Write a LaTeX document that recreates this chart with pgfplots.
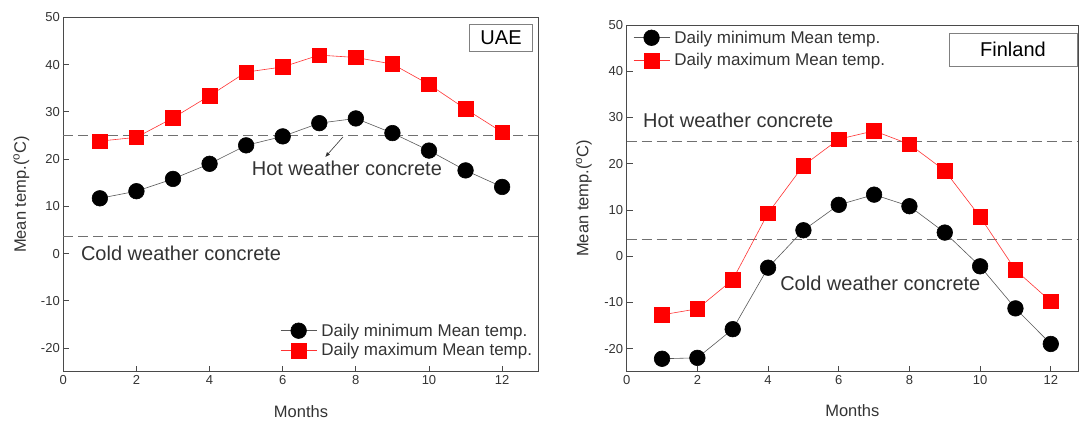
\documentclass[border=0pt]{standalone}
\usepackage{fontspec}
\setmainfont{Liberation Sans}
\usepackage{pgfplots}
\pgfplotsset{compat=1.18}
\usetikzlibrary{arrows.meta}

\definecolor{axgray}{HTML}{4A4A4A}
\definecolor{txtgray}{HTML}{333333}
\definecolor{dashgray}{HTML}{707070}

\tikzset{
  note/.style={font=\fontsize{20}{22}\selectfont, text=txtgray, anchor=west, inner sep=0pt},
}
\pgfplotsset{
  tempaxis/.style={
    scale only axis,
    xmin=0, ymin=-25, ymax=50,
    xtick={0,2,...,12}, ytick={-20,-10,...,50},
    tick pos=left, tick align=inside, major tick length=6pt,
    axis line style={axgray, line width=1pt},
    tick style={axgray, line width=0.8pt},
    ticklabel style={font=\fontsize{13}{15}\selectfont, text=txtgray},
    /pgf/number format/assume math mode=true,
    xlabel={Months}, ylabel={Mean temp.(\textsuperscript{o}C)},
    label style={font=\fontsize{16.5}{18}\selectfont, text=txtgray},
    legend cell align=left,
    legend image code/.code={\draw[mark repeat=2,mark phase=2,##1]
      plot coordinates {(0pt,0pt) (18pt,0pt) (36pt,0pt)};},
    legend style={draw=none, fill=none, inner sep=0pt, anchor=north west,
      font=\fontsize{17}{19}\selectfont, text=txtgray, row sep=3pt,
      nodes={inner sep=1.5pt},
      /tikz/every odd column/.append style={column sep=3pt}},
    clip=false,
  },
  tmin/.style={black!65, line width=0.6pt, mark=*, mark size=7.8pt,
    mark options={solid, fill=black, draw=black}},
  tmax/.style={red!80, line width=0.6pt, mark=square*, mark size=7.3pt,
    mark options={solid, fill=red, draw=red}},
  thr/.style={dashgray, dash pattern=on 10pt off 5pt, line width=1pt, forget plot},
}

\begin{document}
\begin{tikzpicture}
\useasboundingbox (0,0) rectangle (1079pt,421pt);

% UAE
\begin{axis}[tempaxis,
  at={(63.3pt,49.3pt)}, anchor=south west,
  width=475.4pt, height=354.4pt, xmax=13,
  xlabel style={at={(axis description cs:0.5,-0.113)}, anchor=center},
  ylabel style={at={(axis description cs:-0.088,0.5)}, anchor=center},
  legend style={at={(axis cs:5.93,-14.5)}},
]
\addplot[thr] coordinates {(0,24.9) (13,24.9)};
\addplot[thr] coordinates {(0,3.7) (13,3.7)};
\addplot[tmin] coordinates {
  (1,11.7)(2,13.2)(3,15.8)(4,19.0)(5,22.9)(6,24.8)
  (7,27.6)(8,28.6)(9,25.5)(10,21.8)(11,17.6)(12,14.1)
};
\addlegendentry{Daily minimum Mean temp.}
\addplot[tmax] coordinates {
  (1,23.8)(2,24.6)(3,28.7)(4,33.4)(5,38.4)(6,39.5)
  (7,42.0)(8,41.5)(9,40.1)(10,35.8)(11,30.6)(12,25.7)
};
\addlegendentry{Daily maximum Mean temp.}
\node[note] at (axis cs:5.15,18.0) {Hot weather concrete};
\node[note] at (axis cs:0.48,0.1) {Cold weather concrete};
\draw[txtgray, line width=0.6pt, -{Latex[length=5pt,width=4pt]}] (axis cs:7.65,24.7) -- (axis cs:7.16,20.4);
\node[draw=gray, line width=0.8pt, minimum width=63.7pt, minimum height=27.7pt,
  inner sep=0pt, font=\fontsize{20}{22}\selectfont, text=black]
  at (axis cs:11.97,45.65) {UAE};
\end{axis}

% Finland
\begin{axis}[tempaxis,
  at={(626.7pt,49.3pt)}, anchor=south west,
  width=451.3pt, height=346.7pt, xmax=12.77,
  xlabel style={at={(axis description cs:0.5,-0.111)}, anchor=center},
  ylabel style={at={(axis description cs:-0.095,0.5)}, anchor=center},
  legend style={at={(axis cs:0.18,49.1)}, row sep=6pt},
]
\addplot[thr] coordinates {(0,24.8) (12.77,24.8)};
\addplot[thr] coordinates {(0,3.7) (12.77,3.7)};
\addplot[tmin] coordinates {
  (1,-22.2)(2,-22.0)(3,-15.8)(4,-2.5)(5,5.6)(6,11.1)
  (7,13.3)(8,10.8)(9,5.1)(10,-2.2)(11,-11.3)(12,-19.0)
};
\addlegendentry{Daily minimum Mean temp.}
\addplot[tmax] coordinates {
  (1,-12.7)(2,-11.4)(3,-5.1)(4,9.3)(5,19.6)(6,25.3)
  (7,27.1)(8,24.2)(9,18.5)(10,8.5)(11,-3.0)(12,-9.8)
};
\addlegendentry{Daily maximum Mean temp.}
\node[note] at (axis cs:0.46,29.3) {Hot weather concrete};
\node[note] at (axis cs:4.34,-5.8) {Cold weather concrete};
\node[draw=gray, line width=0.8pt, minimum width=128pt, minimum height=33pt,
  inner sep=0pt, font=\fontsize{20}{22}\selectfont, text=black]
  at (axis cs:10.93,44.7) {Finland};
\end{axis}
\end{tikzpicture}
\end{document}
